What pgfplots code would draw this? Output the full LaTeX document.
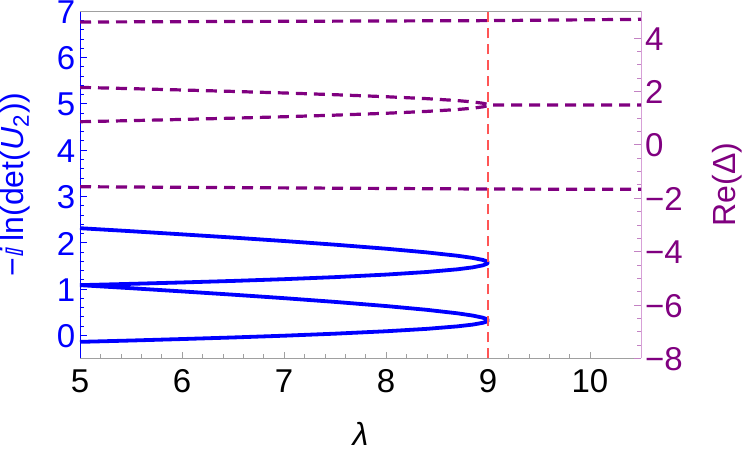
\documentclass[border=0pt]{standalone}
\usepackage{fontspec}
\setmainfont{Liberation Sans}
\newfontfamily\dejavu{DejaVu Sans}
\usepackage{pgfplots}
\pgfplotsset{compat=1.18}

\definecolor{mpurple}{RGB}{128,0,128}
\definecolor{rspine}{RGB}{215,160,215}
\definecolor{rtick}{RGB}{195,130,195}
\definecolor{mred}{RGB}{255,85,85}
\definecolor{framegray}{RGB}{160,160,160}

\pgfplotsset{
  base/.style={
    scale only axis, width=280.5pt, height=173.65pt,
    xmin=5, xmax=10.5,
    tick align=inside, major tick length=3.4pt, minor tick length=2pt,
    ticklabel style={font=\fontsize{16.5}{19}\selectfont},
    label style={font=\fontsize{16}{19}\selectfont},
    /pgf/number format/assume math mode=true,
  },
}

\begin{document}
\begin{tikzpicture}
\useasboundingbox (-40pt,-46.35pt) rectangle (334pt,179.15pt);

% left axis: -i ln(det(U2))
\begin{axis}[base,
  ymin=-0.5, ymax=7,
  axis x line*=bottom, axis y line*=left,
  x axis line style={draw=framegray,-}, y axis line style={draw=blue,-},
  xtick={5,...,10}, minor x tick num=4,
  ytick={0,...,7}, minor y tick num=4,
  xtick style={draw=framegray}, ytick style={draw=blue},
  xticklabel style={yshift=-2.2pt, text=black},
  yticklabel style={xshift=1.1pt, yshift=-0.5pt, text=blue},
  xlabel={\itshape λ},
  xlabel style={at={(axis description cs:0.5,-0.218)}, anchor=center},
  ylabel={−{\dejavu ⅈ}\,ln(det(\textit{U}\textsubscript{2}))},
  ylabel style={at={(axis description cs:-0.116,0.5)}, anchor=center, text=blue},
]
% upper loop
\addplot[blue, line width=1.9pt, line join=round] coordinates {
  (5,2.310) (5.5,2.245) (6,2.177) (6.5,2.107) (7,2.033) (7.5,1.954) (8,1.867)
  (8.4,1.787) (8.7,1.715) (8.85,1.668) (8.95,1.624) (8.99,1.593) (9,1.570)
  (8.99,1.542) (8.95,1.508) (8.85,1.464) (8.7,1.422) (8.4,1.364) (8,1.308)
  (7.5,1.253) (7,1.209) (6.5,1.171) (6,1.138) (5.5,1.108) (5,1.080)
};
% lower loop
\addplot[blue, line width=1.9pt, line join=round] coordinates {
  (5,1.080) (5.5,1.014) (6,0.945) (6.5,0.874) (7,0.799) (7.5,0.718) (8,0.629)
  (8.4,0.547) (8.7,0.472) (8.85,0.423) (8.95,0.377) (8.99,0.345) (9,0.320)
  (8.99,0.296) (8.95,0.267) (8.85,0.228) (8.7,0.190) (8.4,0.136) (8,0.084)
  (7.5,0.032) (7,-0.012) (6.5,-0.050) (6,-0.084) (5.5,-0.116) (5,-0.145)
};
\end{axis}

% right axis: Re(Delta)
\begin{axis}[base,
  ymin=-8, ymax=5,
  axis x line*=top, axis y line*=right,
  x axis line style={draw=framegray,-}, y axis line style={draw=rspine,-},
  xtick=\empty,
  ytick={-8,-6,-4,-2,0,2,4}, yticklabels={−8,−6,−4,−2,0,2,4},
  minor y tick num=3,
  ytick style={draw=rtick},
  yticklabel style={xshift=-1.5pt, yshift=-0.5pt, text=mpurple},
  ylabel={Re(Δ)},
  ylabel style={at={(axis description cs:1.153,0.5)}, anchor=center, text=mpurple},
]
\addplot[mpurple, line width=1.6pt, dash pattern=on 5.5pt off 3.5pt] coordinates {
  (5,4.588) (9,4.640) (10.5,4.689)
};
\addplot[mpurple, line width=1.6pt, dash pattern=on 5.5pt off 3.5pt] coordinates {
  (5,2.141) (5.5,2.094) (6,2.044) (6.5,1.990) (7,1.932) (7.5,1.867) (8,1.792)
  (8.4,1.719) (8.7,1.647) (8.85,1.597) (8.95,1.547) (8.99,1.510) (9,1.481)
  (10.5,1.481)
};
\addplot[mpurple, line width=1.6pt, dash pattern=on 5.5pt off 3.5pt] coordinates {
  (5,0.856) (5.5,0.897) (6,0.941) (6.5,0.989) (7,1.042) (7.5,1.102) (8,1.172)
  (8.4,1.242) (8.7,1.313) (8.85,1.362) (8.95,1.413) (8.99,1.450) (9,1.481)
};
\addplot[mpurple, line width=1.6pt, dash pattern=on 5.5pt off 3.5pt] coordinates {
  (5,-1.578) (9,-1.664) (10.5,-1.675)
};
% lambda = 9 marker
\addplot[mred, line width=0.6pt, dash pattern=on 5pt off 3pt] coordinates {
  (9,-8) (9,5)
};
\end{axis}
\end{tikzpicture}
\end{document}
